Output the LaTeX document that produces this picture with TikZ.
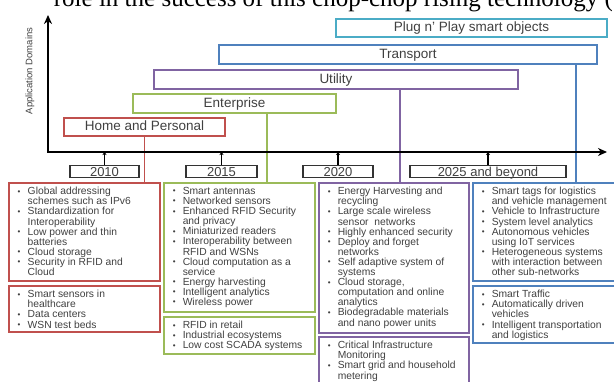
\documentclass[tikz,border=0pt]{standalone}
\usepackage{fontspec}
\setmainfont{Liberation Sans}
\newfontfamily\bodyserif{Liberation Serif}
\usetikzlibrary{positioning, arrows.meta}

\definecolor{hred}{HTML}{C0504D}
\definecolor{egreen}{HTML}{9BBB59}
\definecolor{upurple}{HTML}{8064A2}
\definecolor{tblue}{HTML}{4F81BD}
\definecolor{pcyan}{HTML}{4BACC6}
\definecolor{txtgray}{HTML}{404040}

\newcommand{\bul}[1]{\par\hangindent=10pt\hangafter=1\noindent\hbox to 10pt{\raisebox{0.6pt}{\fontsize{8}{8}\selectfont\textbullet}\hfil}#1}
\newcommand{\itemlist}[3]{\parbox[c][#2][t]{#1}{\raggedright\leftskip=9pt\vspace*{4.5pt}#3}}

\tikzset{
  domainbar/.style={draw=#1, line width=1.6pt, minimum height=18.5pt, inner sep=0pt,
    font=\fontsize{13.5}{15}\selectfont, text=txtgray, text height=9.5pt, text depth=2.5pt},
  yearbox/.style={draw=black!80, line width=1.4pt, minimum height=12pt, inner sep=0pt,
    font=\fontsize{13}{14}\selectfont, text=txtgray, text height=9.3pt, text depth=0pt},
  itembox/.style={draw=#1, line width=1.5pt, inner sep=0pt, anchor=north west,
    font=\fontsize{10.3}{10.1}\selectfont, text=txtgray},
  drop/.style={draw=#1, line width=1.5pt},
  tick/.style={line width=1.2pt, -{Stealth[length=3pt,width=4pt]}}
}

\begin{document}
\begin{tikzpicture}[x=1pt, y=-1pt]
\useasboundingbox (0,0) rectangle (614,381);
\clip (0,0) rectangle (614,381);

% line of the page text above the figure
\node[font=\bodyserif\fontsize{25}{30}\selectfont, anchor=base east, inner sep=0pt] (bodyline) at (613,6) {role in the success of this chop-chop rising technology (};

\coordinate (O) at (48,152);
\coordinate (ytop) at (48,15);
\coordinate (xend) at (607,152);
\coordinate (edrop) at (267,0);
\coordinate (udrop) at (400,0);
\coordinate (tdrop) at (576,0);

\node[rotate=90, font=\fontsize{9.5}{11}\selectfont, text=txtgray] (ylabel) at (30,71) {Application Domains};

% application domains
\node[domainbar=hred, minimum width=161pt] (home) at (144.5,127) {Home and Personal};
\node[domainbar=egreen, minimum width=203pt] (ent) at (234.5,103.5) {Enterprise};
\node[domainbar=upurple, minimum width=364pt] (util) at (336,79.5) {Utility};
\node[domainbar=tblue, minimum width=378pt] (trans) at (408,54.5) {Transport};
\node[domainbar=pcyan, minimum width=271pt] (plug) at (471.5,28) {Plug n' Play smart objects};

% years
\node[yearbox, minimum width=69pt] (y2010) at (104.5,171.5) {2010};
\node[yearbox, minimum width=71pt] (y2015) at (221.5,171.5) {2015};
\node[yearbox, minimum width=70pt] (y2020) at (338,171.5) {2020};
\node[yearbox, minimum width=156pt] (y2025) at (488,171.5) {2025 and beyond};

% lists
\node[itembox=hred] (hb1) at (8,182) {\itemlist{151pt}{98pt}{%
  \bul{Global addressing\newline schemes such as IPv6}
  \bul{Standardization for\newline Interoperability}
  \bul{Low power and thin\newline batteries}
  \bul{Cloud storage}
  \bul{Security in RFID and\newline Cloud}}};
\node[itembox=hred] (hb2) at (8,285) {\itemlist{151pt}{46pt}{%
  \bul{Smart sensors in\newline healthcare}
  \bul{Data centers}
  \bul{WSN test beds}}};
\node[itembox=egreen] (eb1) at (163,182) {\itemlist{151pt}{129pt}{%
  \bul{Smart antennas}
  \bul{Networked sensors}
  \bul{Enhanced RFID Security\newline and privacy}
  \bul{Miniaturized readers}
  \bul{Interoperability between\newline RFID and WSNs}
  \bul{Cloud computation as a\newline service}
  \bul{Energy harvesting}
  \bul{Intelligent analytics}
  \bul{Wireless power}}};
\node[itembox=egreen] (eb2) at (163,316) {\itemlist{151pt}{37pt}{%
  \bul{RFID in retail}
  \bul{Industrial ecosystems}
  \bul{Low cost SCADA systems}}};
\node[itembox=upurple] (ub1) at (318,182) {\itemlist{150pt}{150pt}{%
  \bul{Energy Harvesting and\newline recycling}
  \bul{Large scale wireless\newline sensor\ \ networks}
  \bul{Highly enhanced security}
  \bul{Deploy and forget\newline networks}
  \bul{Self adaptive system of\newline systems}
  \bul{Cloud storage,\newline computation and online\newline analytics}
  \bul{Biodegradable materials\newline and nano power units}}};
\node[itembox=upurple] (ub2) at (318,336) {\itemlist{150pt}{52pt}{%
  \bul{Critical Infrastructure\newline Monitoring}
  \bul{Smart grid and household\newline metering}}};
\node[itembox=tblue] (tb1) at (472,182) {\itemlist{151pt}{98pt}{%
  \bul{Smart tags for logistics\newline and vehicle management}
  \bul{Vehicle to Infrastructure}
  \bul{System level analytics}
  \bul{Autonomous vehicles\newline using IoT services}
  \bul{Heterogeneous systems\newline with interaction between\newline other sub-networks}}};
\node[itembox=tblue] (tb2) at (472,285) {\itemlist{151pt}{57pt}{%
  \bul{Smart Traffic}
  \bul{Automatically driven\newline vehicles}
  \bul{Intelligent transportation\newline and logistics}}};

% domain to list
\draw[drop=hred] (home.south) -- (home.south |- hb1.north);
\draw[drop=egreen] (ent.south -| edrop) -- (eb1.north -| edrop);
\draw[drop=upurple] (util.south -| udrop) -- (ub1.north -| udrop);
\draw[drop=tblue] (trans.south -| tdrop) -- (tb1.north -| tdrop);

% axes
\draw[line width=2pt, {Stealth[length=9pt,width=8pt]}-{Stealth[length=9pt,width=8pt]}] (ytop) -- (O) -- (xend);
\foreach \yr in {2010,2015,2020,2025}{\draw[tick] (y\yr.north) -- (y\yr.north |- O);}
\end{tikzpicture}
\end{document}
